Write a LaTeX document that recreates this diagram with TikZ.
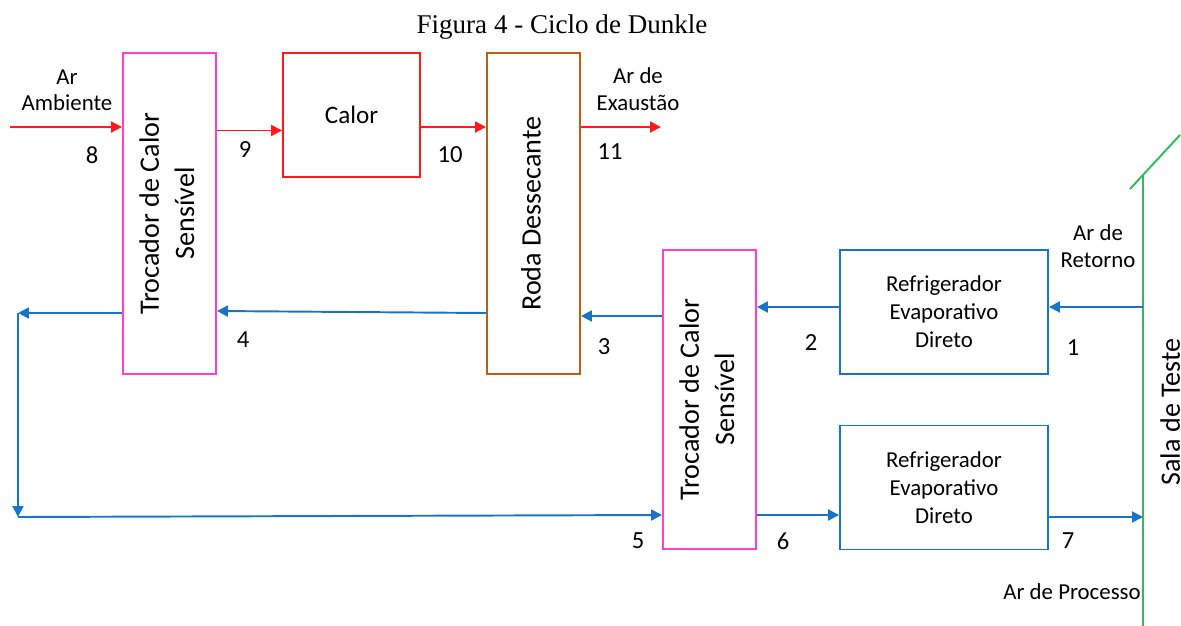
\documentclass[tikz,border=0pt]{standalone}
\usepackage{fontspec}
\setmainfont{Carlito}
\newfontfamily\titlefont{Liberation Serif}
\usepackage{xcolor}
\usetikzlibrary{arrows.meta, positioning}

\definecolor{hxpink}{HTML}{FF3FD2}
\definecolor{heatred}{HTML}{FF1A1A}
\definecolor{wheelbrown}{HTML}{C55A11}
\definecolor{lineblue}{HTML}{1874C8}
\definecolor{roomgreen}{HTML}{2EBD59}

\newcommand{\vtext}[1]{\rotatebox{90}{\fontsize{16}{20}\selectfont\begin{tabular}{@{}c@{}}#1\end{tabular}}}

\begin{document}
\begin{tikzpicture}[
    x=0.02cm, y=-0.02cm,
    box/.style={rectangle, draw, line width=1.1pt, align=center, font=\fontsize{13}{16}\selectfont},
    hxbox/.style={box, draw=hxpink, minimum width=1.86cm, minimum height=6.42cm},
    refbox/.style={box, draw=lineblue, minimum width=4.16cm, minimum height=2.48cm},
    lbl/.style={font=\fontsize{13}{15}\selectfont, align=center},
    num/.style={font=\fontsize{14}{16}\selectfont},
    hot/.style={-{Triangle[length=2.2mm, width=2.2mm]}, line width=1.1pt, draw=heatred},
    cold/.style={-{Triangle[length=2.2mm, width=2.2mm]}, line width=1.1pt, draw=lineblue}
]
\useasboundingbox (0,0) rectangle (1181,626);

\node[font=\titlefont\fontsize{15.4}{17}\selectfont] (title) at (562,27) {Figura 4 - Ciclo de Dunkle};

% equipment
\node[hxbox] (hxa) at (169.5,213.5) {\vtext{Trocador de Calor\\Sensível}};
\node[box, draw=heatred, minimum width=2.74cm, minimum height=2.48cm, font=\fontsize{14.3}{16}\selectfont] (calor) at (351.5,115) {Calor};
\node[box, draw=wheelbrown, minimum width=1.86cm, minimum height=6.42cm] (roda) at (533.5,213.5) {\vtext{Roda Dessecante}};
\node[hxbox, minimum height=5.98cm] (hxb) at (709.5,399.5) {\vtext{Trocador de Calor\\Sensível}};
\node[refbox] (refa) at (944,312) {Refrigerador\\Evaporativo\\Direto};
\node[refbox] (refb) at (944,487.5) {Refrigerador\\Evaporativo\\Direto};

% room
\coordinate (salatop) at (1143,176);
\coordinate (salabot) at (1143,626);
\draw[roomgreen, line width=1.1pt] (salatop) -- (salabot);
\draw[roomgreen, line width=1.1pt] (1130,189) -- (1180,135);
\node[rotate=90, anchor=north, inner sep=0pt, font=\fontsize{16}{18}\selectfont] (sala) at (1160,412) {Sala de Teste};

% levels
\coordinate (top) at (0,127);
\coordinate (amb) at (10,127);
\coordinate (exh) at (661,127);
\coordinate (lc) at (18,313);
\coordinate (bc) at (18,517);

% hot side
\draw[hot] (amb) -- (hxa.west |- top);
\draw[hot] ([yshift=-2]hxa.east |- top) -- ([yshift=-2]calor.west |- top);
\draw[hot] (calor.east |- top) -- (roda.west |- top);
\draw[hot] (roda.east |- top) -- (exh);

% cold side
\draw[cold] (salatop |- 0,307) -- (refa.east |- 0,307);
\draw[cold] (refa.west |- 0,307) -- (hxb.east |- 0,307);
\draw[cold] (hxb.west |- 0,316) -- (roda.east |- 0,316);
\draw[cold] (roda.west |- 0,313) -- (hxa.east |- 0,311);
\draw[cold] (hxa.west |- lc) -- (lc);
\draw[cold] (lc) -- (bc);
\draw[cold] (bc) -- (hxb.west |- 0,515);
\draw[cold] (hxb.east |- 0,515) -- (refb.west |- 0,515);
\draw[cold] (refb.east |- 0,517) -- (salabot |- 0,517);

% labels
\node[lbl] (ambl) at (67,90) {Ar\\Ambiente};
\node[lbl] (exhl) at (638,89) {Ar de\\Exaustão};
\node[lbl] (retl) at (1098,246) {Ar de\\Retorno};
\node[lbl] (procl) at (1072,592) {Ar de Processo};

% state points
\node[num] (p8) at (92,155) {8};
\node[num] (p9) at (245,150) {9};
\node[num] (p10) at (450,155) {10};
\node[num] (p11) at (610,152) {11};
\node[num] (p4) at (243,340) {4};
\node[num] (p3) at (604,347) {3};
\node[num] (p2) at (811,343) {2};
\node[num] (p1) at (1073,348) {1};
\node[num] (p5) at (638,541) {5};
\node[num] (p6) at (783,541) {6};
\node[num] (p7) at (1068,541) {7};
\end{tikzpicture}
\end{document}
